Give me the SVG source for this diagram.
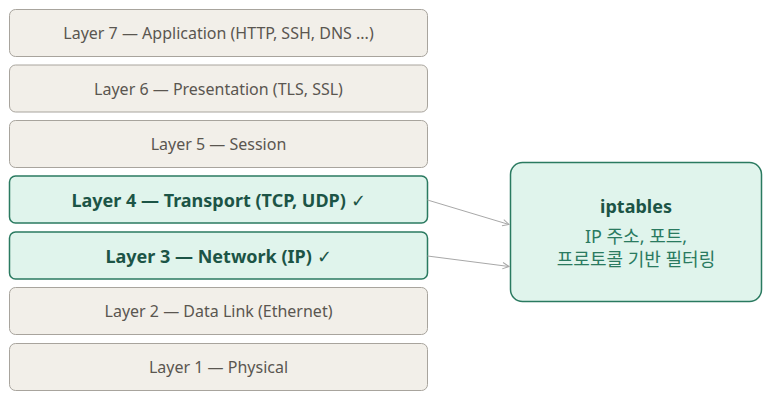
<svg xmlns="http://www.w3.org/2000/svg" width="773" height="405" viewBox="0 0 773 405">
<style>
.l rect{fill:#f2efe9;stroke:#a8a49d;stroke-width:1}
.l text{font-family:"Noto Sans","Open Sans",sans-serif;font-size:16px;fill:#5a5650;text-anchor:middle}
.h rect{fill:#e0f4ec;stroke:#2a7a60;stroke-width:1.5}
.h text{font-family:"Noto Sans","Open Sans",sans-serif;font-size:18px;font-weight:bold;fill:#1c5446;text-anchor:middle}
.ck{font-weight:normal}
.c{stroke:#a8a8a8;stroke-width:1;fill:none;marker-end:url(#a)}
.t{font-family:"Noto Sans","Noto Sans CJK KR",sans-serif;text-anchor:middle}
</style>
<defs>
<marker id="a" viewBox="0 0 10 10" refX="9" refY="5" markerWidth="8" markerHeight="8" orient="auto" markerUnits="userSpaceOnUse">
<path d="M1,1 L9,5 L1,9" fill="none" stroke="#a8a8a8" stroke-width="1.2"/>
</marker>
</defs>
<g id="layer7" class="l"><rect x="9.5" y="9.5" width="418" height="47" rx="6"/><text x="218.5" y="39">Layer 7 — Application (HTTP, SSH, DNS ...)</text></g>
<g id="layer6" class="l"><rect x="9.5" y="65" width="418" height="47" rx="6"/><text x="218.5" y="94.5">Layer 6 — Presentation (TLS, SSL)</text></g>
<g id="layer5" class="l"><rect x="9.5" y="120.5" width="418" height="47" rx="6"/><text x="218.5" y="150">Layer 5 — Session</text></g>
<g id="layer4" class="h"><rect x="9.5" y="176" width="418" height="47" rx="6"/><text x="218.5" y="207">Layer 4 — Transport (TCP, UDP) <tspan class="ck">✓</tspan></text></g>
<g id="layer3" class="h"><rect x="9.5" y="232" width="418" height="47" rx="6"/><text x="218.5" y="263">Layer 3 — Network (IP) <tspan class="ck">✓</tspan></text></g>
<g id="layer2" class="l"><rect x="9.5" y="287.5" width="418" height="47" rx="6"/><text x="218.5" y="317">Layer 2 — Data Link (Ethernet)</text></g>
<g id="layer1" class="l"><rect x="9.5" y="343.5" width="418" height="47" rx="6"/><text x="218.5" y="373">Layer 1 — Physical</text></g>
<g id="iptables">
<rect x="510.5" y="162.5" width="251" height="139" rx="12" fill="#e0f4ec" stroke="#2a7a60" stroke-width="1.5"/>
<text class="t" x="636" y="212.5" font-size="18" font-weight="bold" fill="#1c5446">iptables</text>
<text class="t" x="636" y="243" font-size="18" fill="#2a7a60">IP 주소, 포트,</text>
<text class="t" x="636" y="266" font-size="18" fill="#2a7a60">프로토콜 기반 필터링</text>
</g>
<g id="connectors">
<line class="c" x1="427.5" y1="200" x2="509" y2="224.5"/>
<line class="c" x1="427.5" y1="256" x2="509" y2="266.5"/>
</g>
</svg>
